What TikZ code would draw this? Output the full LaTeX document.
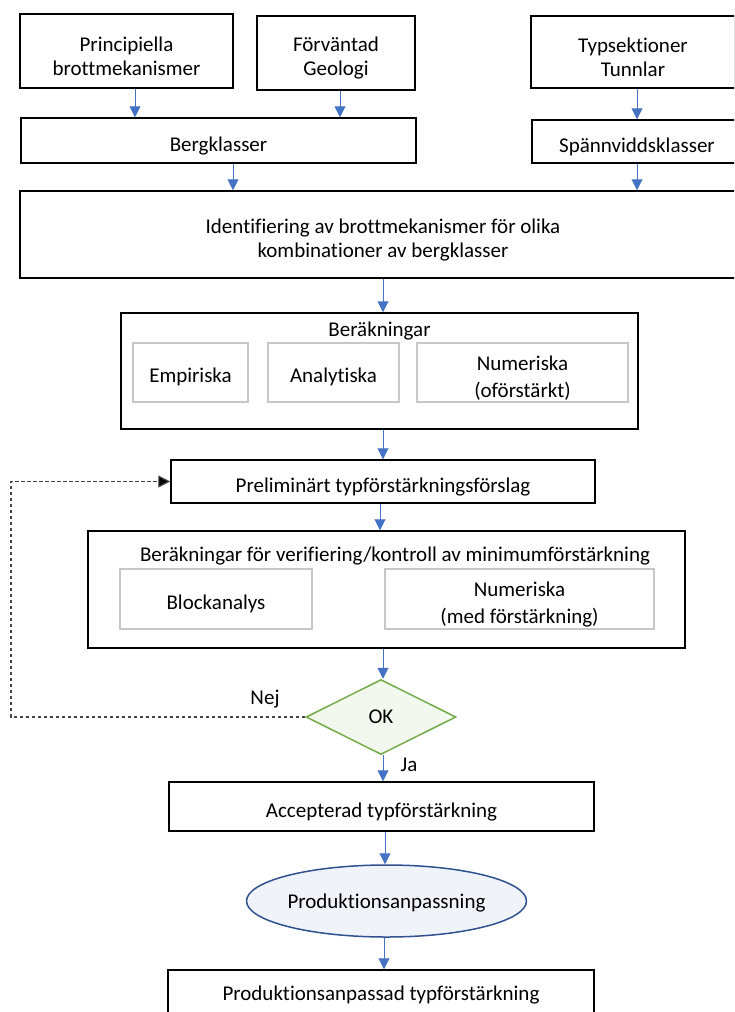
\documentclass[tikz,border=0pt]{standalone}
\usepackage{fontspec}
\setmainfont{Carlito}[Ligatures={NoCommon}]
\usetikzlibrary{arrows.meta,shapes.geometric}
\definecolor{arrblue}{RGB}{68,114,196}
\definecolor{okgreen}{RGB}{116,172,72}
\definecolor{okfill}{RGB}{243,248,239}
\definecolor{elldraw}{RGB}{47,82,143}
\definecolor{ellfill}{RGB}{240,244,250}
\definecolor{dashgray}{RGB}{70,70,70}
\begin{document}
\begin{tikzpicture}[x=1pt,y=-1pt,
  every node/.style={font=\fontsize{21}{24}\selectfont, align=center, text=black},
  box/.style={draw=black, line width=1.5pt, inner sep=0pt, text height=25pt},
  boxtwo/.style={box, text height=49pt},
  gbox/.style={draw=black!22, line width=1.5pt, inner sep=0pt, text height=24pt,
    font=\fontsize{21}{26.5}\selectfont},
  gboxtwo/.style={gbox, text height=52pt},
  arr/.style={draw=arrblue, line width=1pt, -{Triangle[width=11pt,length=11pt,fill=arrblue]}},
  loopline/.style={draw=dashgray, line width=1.2pt, dash pattern=on 3.5pt off 2.5pt, -{Triangle[width=12pt,length=12pt,fill=black]}},
  lbl/.style={inner sep=0pt}
]
\useasboundingbox (0,0) rectangle (734,1012);
\clip (0,0) rectangle (734,1012);

% top row
\node[boxtwo, minimum width=213, minimum height=74] (pr) at (126.5,51) {Principiella\\brottmekanismer};
\node[boxtwo, minimum width=158, minimum height=74] (fo) at (336,53) {Förväntad\\Geologi};
\node[boxtwo, minimum width=204, minimum height=72] (ty) at (633,52) {Typsektioner\\Tunnlar};
% classes
\node[box, minimum width=395, minimum height=45] (be) at (218.5,140.5) {Bergklasser};
\node[box, minimum width=210, minimum height=43] (sp) at (637,141.5) {Spännviddsklasser};
% identification
\node[boxtwo, minimum width=726, minimum height=87] (id) at (383,234.5) {Identifiering av brottmekanismer för olika\\kombinationer av bergklasser};
% calculations
\node[box, minimum width=517, minimum height=116] (ber) at (379.5,371) {};
\node[lbl] (berl) at (379.5,331) {Beräkningar};
\node[gbox, minimum width=115, minimum height=59] (emp) at (190.5,372.5) {Empiriska};
\node[gbox, minimum width=131, minimum height=59] (ana) at (333.5,372.5) {Analytiska};
\node[gboxtwo, minimum width=211, minimum height=59] (num) at (522.5,372.5) {Numeriska\\(oförstärkt)};
% preliminary
\node[box, minimum width=424, minimum height=43] (pre) at (383,481.5) {Preliminärt typförstärkningsförslag};
% verification
\node[box, minimum width=597, minimum height=117] (ver) at (386.5,589.5) {};
\node[lbl] (verl) at (395,556) {Beräkningar för verifiering/kontroll av minimumförstärkning};
\node[gbox, minimum width=192, minimum height=60] (blo) at (216,599) {Blockanalys};
\node[gboxtwo, minimum width=269, minimum height=60] (num2) at (519.5,599) {Numeriska\\(med förstärkning)};
% decision
\node[diamond, draw=okgreen, fill=okfill, line width=1.5pt, minimum width=150, minimum height=75, aspect=2, inner sep=0pt] (ok) at (381,717) {OK};
\node[lbl] (nej) at (265,699) {Nej};
\node[lbl] (ja) at (409,765) {Ja};
% accepted
\node[box, minimum width=425, minimum height=49] (acc) at (381.5,806.5) {Accepterad typförstärkning};
\node[ellipse, draw=elldraw, fill=ellfill, line width=1.5pt, minimum width=237, minimum height=72, inner sep=0pt, text height=19pt] (prod) at (386.5,901) {Produktionsanpassning};
\node[box, minimum width=426, minimum height=60] (fin) at (381,1000) {};
\node[lbl] (finl) at (381,995) {Produktionsanpassad typförstärkning};

% x positions of connectors
\coordinate (xa) at (135,0);
\coordinate (xb) at (340,0);
\coordinate (xc) at (637,0);
\coordinate (xd) at (233,0);
\coordinate (xe) at (383,0);
\coordinate (xf) at (380,0);
\coordinate (xg) at (385,0);
\coordinate (xh) at (384,0);
\coordinate (xl) at (11,0);

\draw[arr] (pr.south -| xa) -- (be.north -| xa);
\draw[arr] (fo.south -| xb) -- (be.north -| xb);
\draw[arr] (ty.south -| xc) -- (sp.north -| xc);
\draw[arr] (be.south -| xd) -- (id.north -| xd);
\draw[arr] (sp.south -| xc) -- (id.north -| xc);
\draw[arr] (id.south -| xe) -- (ber.north -| xe);
\draw[arr] (ber.south -| xe) -- (pre.north -| xe);
\draw[arr] (pre.south -| xf) -- (ver.north -| xf);
\draw[arr] (ver.south -| xe) -- (ok.north -| xe);
\draw[arr] (ok.south -| xe) -- (acc.north -| xe);
\draw[arr] (acc.south -| xg) -- (prod.north -| xg);
\draw[arr] (prod.south -| xh) -- (fin.north -| xh);

% feedback loop
\draw[loopline] (ok.west) -- (ok.west -| xl) -- (pre.west -| xl) -- (pre.west);
\end{tikzpicture}
\end{document}
